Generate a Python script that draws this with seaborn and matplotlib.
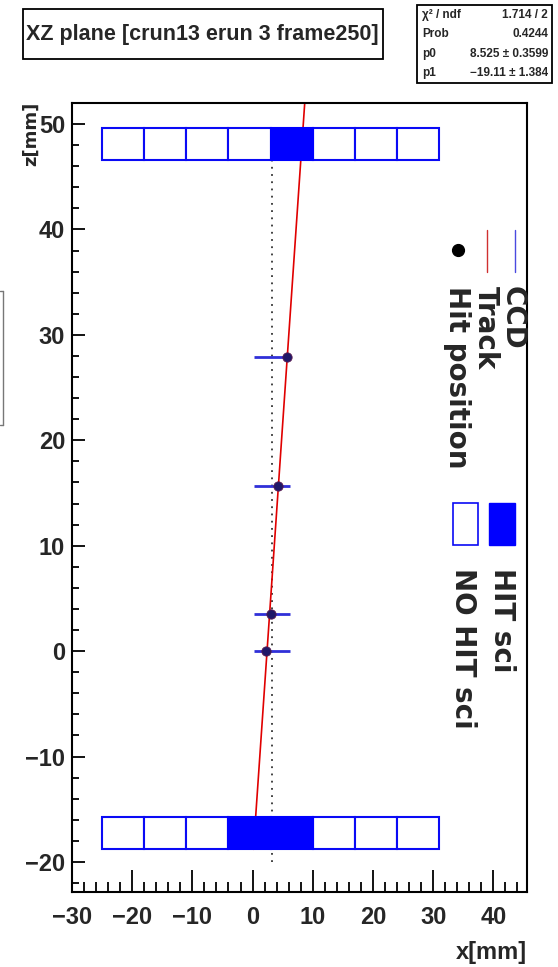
import numpy as np
import pandas as pd
import matplotlib
matplotlib.use("Agg")
import matplotlib.pyplot as plt
from matplotlib.patches import Rectangle
from matplotlib.lines import Line2D
from matplotlib.ticker import MultipleLocator
import seaborn as sns

# ---------------- data ----------------
sci_edges = [-25, -18, -11, -4, 3, 10, 17, 24, 31]      # scintillator bar edges (x, mm)
top_hit = [0, 0, 0, 0, 1, 0, 0, 0]                     # 1 = HIT sci
bottom_hit = [0, 0, 0, 1, 1, 0, 0, 0]
top_z = [46.6, 49.6]                                    # z range of top scintillator row
bottom_z = [-18.8, -15.7]                               # z range of bottom scintillator row

hit_x = [2.3, 3.0, 4.2, 5.8]                            # hit positions
hit_z = [0.0, 3.5, 15.7, 27.9]
ccd_x = [0.2, 6.3]                                      # CCD extent in x
ccd_center = 3.25                                       # dotted reference line
ref_z = [-20.0, 46.6]
track_z_range = [-18.8, 60.0]

fit_names = ["χ² / ndf", "Prob", "p0", "p1"]
fit_values = ["1.714 / 2", "0.4244", "8.525 ± 0.3599", "−19.11 ± 1.384"]
title = "XZ plane [crun13 erun 3 frame250]"

# ---------------- style ----------------
sns.set_theme(style="ticks")
NARROW = ["Liberation Sans", "DejaVu Sans"]
WIDE = ["DejaVu Sans"]
plt.rcParams["font.family"] = NARROW
plt.rcParams["font.weight"] = "bold"
plt.rcParams["axes.unicode_minus"] = True

W, H = 558, 967
def fx(x):
    return x / W
def fy(y):
    return 1 - y / H

fig = plt.figure(figsize=(W / 100, H / 100), dpi=100)
fig.patch.set_facecolor("white")
ax = fig.add_axes([fx(72), fy(892), (527 - 72) / W, (892 - 103) / H])
ax.set_facecolor("white")

BLUE = "#0000ff"
EDGE = "#0a0af5"
CCDC = "#3030d8"
RED = "#e00000"

# dotted reference line
ax.plot([ccd_center, ccd_center], ref_z, ls=(0, (1, 3)), color="#333333", lw=1.3, zorder=1)

# track (fit through hits)
b, a = np.polyfit(hit_z, hit_x, 1)
tz = np.array(track_z_range)
track = pd.DataFrame({"z": tz, "x": a + b * tz})
sns.lineplot(data=track, x="x", y="z", sort=False, estimator=None, color=RED, lw=1.2, ax=ax, zorder=2)

# CCDs
ax.hlines(hit_z, ccd_x[0], ccd_x[1], color=CCDC, lw=2.0, zorder=3)

# hit positions
hits = pd.DataFrame({"x": hit_x, "z": hit_z})
sns.scatterplot(data=hits, x="x", y="z", s=45, color="#201868", edgecolor="#5a1a50",
                linewidth=0.6, ax=ax, zorder=4)

# scintillators
for zr, flags in ((top_z, top_hit), (bottom_z, bottom_hit)):
    for i, f in enumerate(flags):
        ax.add_patch(Rectangle((sci_edges[i], zr[0]), sci_edges[i + 1] - sci_edges[i], zr[1] - zr[0],
                               facecolor=BLUE if f else "white", edgecolor=BLUE if f else EDGE,
                               lw=1.5, zorder=6 if f else 5))

ax.set_xlim(-30, 45.6)
ax.set_ylim(-22.85, 52)
ax.set_xticks(np.arange(-30, 41, 10))
ax.set_yticks(np.arange(-20, 51, 10))
ax.xaxis.set_minor_locator(MultipleLocator(2))
ax.yaxis.set_minor_locator(MultipleLocator(2))
ax.set_xlabel("")
ax.set_ylabel("")
ax.tick_params(axis="both", which="both", direction="in", top=False, right=False, color="black", width=1.3)
ax.tick_params(axis="x", which="major", length=16, pad=10, labelsize=17)
ax.tick_params(axis="x", which="minor", length=7)
ax.tick_params(axis="y", which="major", length=9, pad=5, labelsize=17)
ax.tick_params(axis="y", which="minor", length=5)
for lbl in ax.get_xticklabels() + ax.get_yticklabels():
    lbl.set_family(NARROW)
    lbl.set_weight("bold")
for s in ax.spines.values():
    s.set_color("black")
    s.set_linewidth(1.5)

# axis titles
fig.text(fx(527), fy(953), "x[mm]", ha="right", va="center", fontsize=17, family=NARROW, weight="bold")
fig.text(fx(31), fy(102), "z[mm]", rotation=90, ha="center", va="top", fontsize=13, family=WIDE, weight="bold")

# title box
fig.add_artist(Rectangle((fx(22.7), fy(59.3)), (382.7 - 22.7) / W, 50 / H, transform=fig.transFigure,
                         facecolor="white", edgecolor="black", lw=1.3))
fig.text(fx(202.7), fy(34.3), title, ha="center", va="center", fontsize=15.5, family=NARROW, weight="bold")

# stats box
fig.add_artist(Rectangle((fx(417), fy(83)), (552 - 417) / W, 78 / H, transform=fig.transFigure,
                         facecolor="white", edgecolor="black", lw=1.3))
for i, (n, v) in enumerate(zip(fit_names, fit_values)):
    yy = fy(15 + 19.3 * i)
    fig.text(fx(422), yy, n, ha="left", va="center", fontsize=8.5, family=NARROW, weight="bold")
    fig.text(fx(548), yy, v, ha="right", va="center", fontsize=8.5, family=NARROW, weight="bold")

# partial box at left edge
for xs, ys in (([0, 3], [291, 291]), ([3, 3], [291, 425]), ([0, 3], [425, 425])):
    fig.add_artist(Line2D([fx(x) for x in xs], [fy(y) for y in ys], transform=fig.transFigure,
                          color="#777777", lw=1.0))

# legend 1 (rotated)
fig.add_artist(Line2D([fx(515)] * 2, [fy(230), fy(272)], transform=fig.transFigure, color="#4a4ae0", lw=1.0))
fig.add_artist(Line2D([fx(487)] * 2, [fy(230), fy(272)], transform=fig.transFigure, color="#d03030", lw=1.0))
fig.add_artist(Line2D([fx(458)], [fy(250)], transform=fig.transFigure, marker="o", ms=8.5,
                      color="black", ls="none"))
for xc, txt in ((513, "CCD"), (486, "Track"), (457, "Hit position")):
    fig.text(fx(xc), fy(286), txt, rotation=-90, ha="center", va="top", fontsize=20, family=WIDE, weight="bold")

# legend 2
fig.add_artist(Rectangle((fx(489), fy(545)), 26 / W, 42 / H, transform=fig.transFigure,
                         facecolor=BLUE, edgecolor=BLUE, lw=1.0))
fig.add_artist(Rectangle((fx(453), fy(545)), 25 / W, 42 / H, transform=fig.transFigure,
                         facecolor="white", edgecolor=EDGE, lw=1.2))
for xc, txt in ((502, "HIT sci"), (463, "NO HIT sci")):
    fig.text(fx(xc), fy(568), txt, rotation=-90, ha="center", va="top", fontsize=20, family=WIDE, weight="bold")

fig.savefig("out.png", dpi=100, facecolor="white")
